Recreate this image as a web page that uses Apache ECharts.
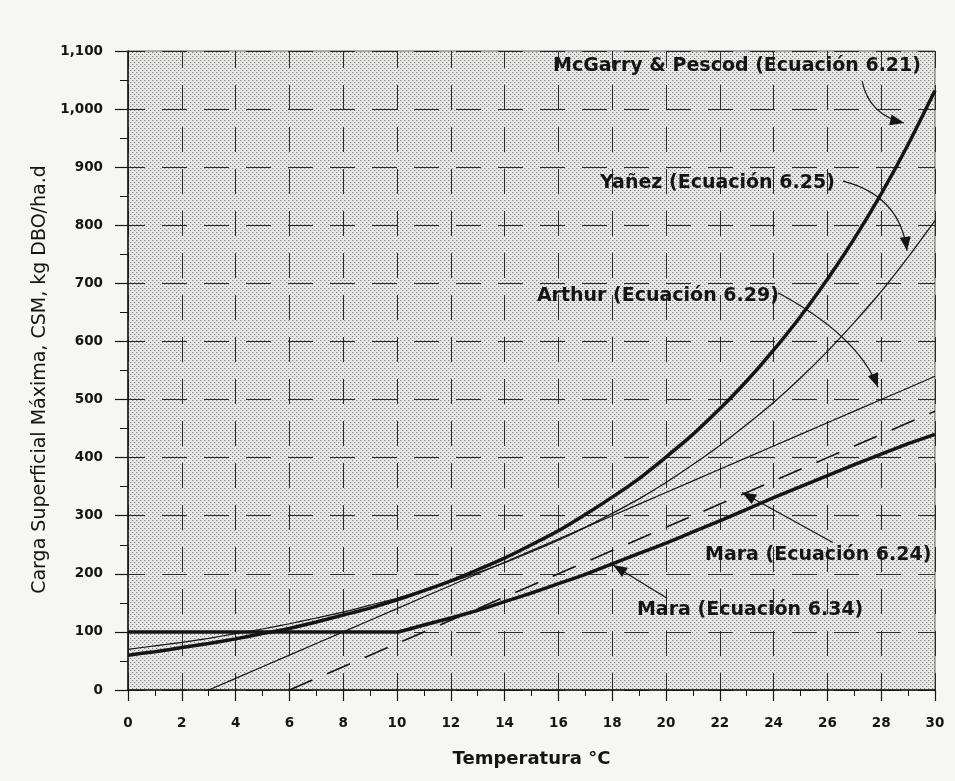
<!DOCTYPE html>
<html><head><meta charset="utf-8">
<script src="https://cdn.jsdelivr.net/npm/echarts@6/dist/echarts.min.js"></script>
<style>html,body{margin:0;padding:0;background:#f6f6f4;}#c{width:955px;height:781px;}</style>
</head><body><div id="c"></div>
<script>
// ---- data ----
var temps = [0,1,2,3,4,5,6,7,8,9,10,11,12,13,14,15,16,17,18,19,20,21,22,23,24,25,26,27,28,29,30];
var mcgarry = [60,66,73,80,88,97,106,117,129,141,155,171,188,207,227,250,274,302,332,364,401,440,484,532,585,643,707,777,854,939,1032];
var yanez = [70,76,82,89,97,105,114,124,134,146,158,172,186,202,219,238,258,280,304,329,357,388,421,457,495,537,583,633,686,745,808];
var arthur = [null,null,null,0,20,40,60,80,100,120,140,160,180,200,220,240,260,280,300,320,340,360,380,400,420,440,460,480,500,520,540];
var mara624 = [null,null,null,null,null,null,0,20,40,60,80,100,120,140,160,180,200,220,240,260,280,300,320,340,360,380,400,420,440,460,480];
var mara634 = [100,100,100,100,100,100,100,100,100,100,100,112,124,137,152,167,183,199,217,235,253,272,291,311,331,350,369,388,406,424,440];
var xTicks = [0,2,4,6,8,10,12,14,16,18,20,22,24,26,28,30];
var yTicks = [0,100,200,300,400,500,600,700,800,900,1000,1100];

// annotations (data coordinates)
var labelTexts = ['McGarry & Pescod (Ecuación 6.21)','Yañez (Ecuación 6.25)','Arthur (Ecuación 6.29)','Mara (Ecuación 6.24)','Mara (Ecuación 6.34)'];
var labelPos = [[15.8,1074],[17.55,873],[15.2,679],[21.45,232],[18.92,137]];
var arrowStart = [[27.29,1048],[26.58,876],[24.16,684],[26.2,254],[20.04,158]];
var arrowCtrl  = [[27.55,990],[28.7,851],[27.14,610],null,null];
var arrowEnd   = [[28.85,976],[28.96,756],[27.88,521],[22.83,340],[18.03,215]];

function pairs(vals){ var out=[]; for(var i=0;i<temps.length;i++){ if(vals[i]!==null) out.push([temps[i], vals[i]]); } return out; }

var cv = document.createElement('canvas'); cv.width=4; cv.height=4;
var cx = cv.getContext('2d');
cx.fillStyle='#e8e8e6'; cx.fillRect(0,0,4,4);
cx.fillStyle='#808080'; cx.fillRect(0,0,1,1); cx.fillRect(2,2,1,1);
cx.fillStyle='#cfcfcf'; cx.fillRect(1,0,1,1); cx.fillRect(3,2,1,1);

var chart = echarts.init(document.getElementById('c'), null, {renderer:'canvas'});
var ink = '#151515';
var boldFont = 'DejaVu Sans';
var opt = {
  backgroundColor: '#f6f6f4',
  animation: false,
  grid: {left:128, right:20, top:51, bottom:91, show:true, backgroundColor:{image:cv, repeat:'repeat'}, borderColor:'#666', borderWidth:1},
  xAxis: {
    type:'value', min:0, max:30, interval:2,
    name:'Temperatura °C', nameLocation:'middle', nameGap:60,
    nameTextStyle:{fontFamily:boldFont, fontWeight:'bold', fontSize:18, color:ink},
    axisLine:{show:true, onZero:false, lineStyle:{color:ink, width:1.5}},
    axisTick:{show:true, length:11, lineStyle:{color:ink, width:1.2}},
    minorTick:{show:true, splitNumber:2, length:6, lineStyle:{color:ink, width:1}},
    axisLabel:{margin:26, fontFamily:boldFont, fontWeight:'bold', fontSize:13.5, color:ink,
      formatter:function(v){ return xTicks.indexOf(v)>=0 ? String(v) : ''; }},
    splitLine:{show:true, lineStyle:{color:'#2a2a2a', width:1, type:[25,17], dashOffset:8}}
  },
  yAxis: {
    type:'value', min:0, max:1100, interval:100,
    name:'Carga Superficial Máxima, CSM, kg DBO/ha.d', nameLocation:'middle', nameGap:68,
    nameTextStyle:{fontFamily:'DejaVu Sans', fontSize:19, color:ink, padding:[0,18,0,0]},
    axisLine:{show:true, onZero:false, lineStyle:{color:ink, width:1.5}},
    axisTick:{show:true, length:13, lineStyle:{color:ink, width:1.2}},
    minorTick:{show:true, splitNumber:2, length:8, lineStyle:{color:ink, width:1}},
    axisLabel:{margin:25, fontFamily:boldFont, fontWeight:'bold', fontSize:13.5, color:ink,
      formatter:function(v){ return yTicks.indexOf(v)>=0 ? v.toLocaleString('en-US') : ''; }},
    splitLine:{show:true, lineStyle:{color:'#2a2a2a', width:1, type:[25,17], dashOffset:8}}
  },
  series: [
    {name:'McGarry & Pescod', type:'line', data:pairs(mcgarry), showSymbol:false, smooth:0.2, lineStyle:{color:ink, width:3.5}, z:5},
    {name:'Yañez', type:'line', data:pairs(yanez), showSymbol:false, smooth:0.2, lineStyle:{color:ink, width:1.2}, z:4},
    {name:'Arthur', type:'line', data:pairs(arthur), showSymbol:false, lineStyle:{color:ink, width:1.2}, z:4},
    {name:'Mara 6.24', type:'line', data:pairs(mara624), showSymbol:false, lineStyle:{color:ink, width:1.6, type:[25,16]}, z:4},
    {name:'Mara 6.34', type:'line', data:pairs(mara634), showSymbol:false, smooth:0.15, lineStyle:{color:ink, width:3.5}, z:5}
  ]
};
chart.setOption(opt);

function px(p){ return chart.convertToPixel({gridIndex:0}, p); }
var g = [];
for (var i=0;i<labelTexts.length;i++){
  var lp = px(labelPos[i]);
  g.push({type:'text', x:lp[0], y:lp[1], z:20, style:{text:labelTexts[i], fill:ink, font:'bold 19px "DejaVu Sans"', textAlign:'left', textVerticalAlign:'middle'}});
  var s = px(arrowStart[i]), e = px(arrowEnd[i]), c = arrowCtrl[i] ? px(arrowCtrl[i]) : null;
  if (c) {
    g.push({type:'bezierCurve', z:20, shape:{x1:s[0],y1:s[1],x2:e[0],y2:e[1],cpx1:c[0],cpy1:c[1]}, style:{stroke:ink, lineWidth:1.2, fill:null}});
  } else {
    g.push({type:'line', z:20, shape:{x1:s[0],y1:s[1],x2:e[0],y2:e[1]}, style:{stroke:ink, lineWidth:1.2}});
  }
  var from = c || s;
  var ang = Math.atan2(e[1]-from[1], e[0]-from[0]);
  var L=14, W=5.5;
  var bx = e[0]-L*Math.cos(ang), by = e[1]-L*Math.sin(ang);
  var nx = -Math.sin(ang)*W, ny = Math.cos(ang)*W;
  g.push({type:'polygon', z:21, shape:{points:[[e[0],e[1]],[bx+nx,by+ny],[bx-nx,by-ny]]}, style:{fill:ink}});
}
chart.setOption({graphic:g});
</script></body></html>
